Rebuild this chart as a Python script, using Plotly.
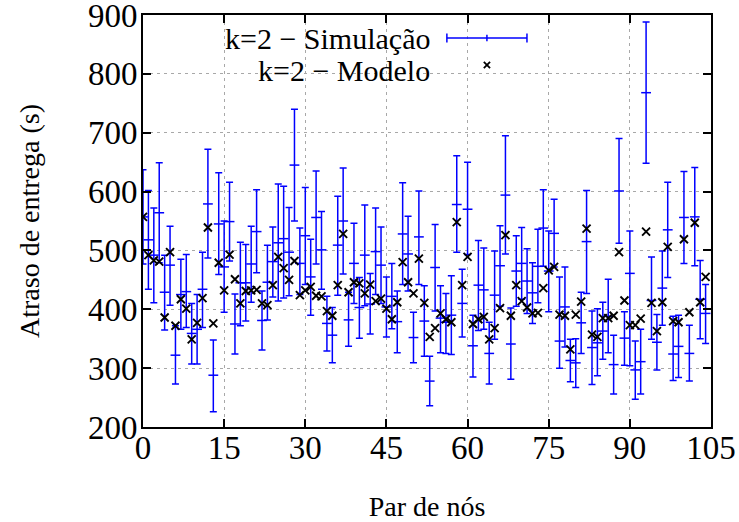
import plotly.graph_objects as go

pairs = list(range(105))

model = [557, 492, 483, 481, 386, 497, 372, 417, 401, 349, 377, 419, 539, 376, 479, 432, 493, 451, 410, 431,
         432, 433, 410, 407, 441, 489, 470, 450, 482, 424, 432, 438, 423, 422, 397, 389, 441, 528, 429, 446,
         444, 427, 442, 414, 418, 401, 383, 412, 480, 446, 427, 486, 411, 353, 368, 393, 383, 378, 548, 441,
         489, 375, 383, 387, 349, 368, 402, 526, 389, 441, 414, 403, 393, 394, 436, 466, 472, 391, 389, 332,
         391, 413, 537, 357, 353, 385, 385, 389, 497, 415, 373, 373, 384, 532, 411, 363, 412, 506, 380, 378,
         519, 395, 547, 412, 455]

sim_mean = [557, 518, 492, 564, 429, 475, 322, 425, 430, 359, 366, 434, 579, 288, 545, 472, 549, 375, 445, 445,
            477, 532, 381, 446, 481, 513, 520, 497, 645, 478, 525, 455, 556, 501, 376, 356, 509, 550, 382, 478,
            403, 492, 409, 498, 475, 404, 422, 379, 528, 494, 352, 523, 380, 278, 471, 385, 378, 390, 578, 410,
            570, 338, 441, 433, 325, 424, 474, 594, 341, 465, 478, 448, 428, 473, 538, 465, 529, 346, 404, 313,
            309, 377, 515, 335, 343, 363, 388, 306, 601, 351, 461, 297, 311, 768, 415, 344, 436, 535, 324, 337,
            556, 325, 557, 417, 393]

sim_high = [637, 602, 572, 649, 492, 541, 372, 485, 493, 410, 425, 497, 672, 348, 632, 550, 616, 426, 514, 510,
            541, 603, 431, 509, 540, 613, 609, 573, 740, 538, 607, 519, 635, 566, 422, 403, 592, 640, 429, 546,
            454, 577, 461, 572, 540, 455, 478, 431, 615, 558, 395, 601, 440, 320, 544, 440, 427, 457, 661, 468,
            650, 390, 517, 504, 378, 499, 542, 695, 402, 525, 539, 503, 479, 536, 603, 533, 587, 455, 472, 349,
            350, 429, 602, 397, 401, 412, 451, 356, 690, 396, 533, 346, 366, 888, 489, 391, 499, 616, 388, 390,
            634, 373, 641, 483, 442]

sim_low = [477, 434, 411, 479, 365, 407, 273, 366, 369, 307, 307, 369, 487, 226, 459, 395, 482, 324, 372, 380,
           412, 462, 331, 382, 421, 414, 419, 423, 550, 425, 442, 390, 477, 434, 329, 309, 424, 460, 337, 410,
           351, 406, 358, 425, 410, 353, 367, 326, 442, 431, 309, 442, 320, 236, 397, 326, 325, 323, 497, 353,
           493, 285, 364, 366, 273, 349, 405, 494, 281, 405, 417, 393, 376, 411, 473, 396, 472, 300, 336, 277,
           267, 325, 427, 272, 287, 315, 326, 256, 512, 305, 304, 247, 256, 648, 349, 297, 373, 454, 279, 284,
           478, 278, 474, 350, 342]

x_ticks = [0, 15, 30, 45, 60, 75, 90, 105]
y_ticks = [200, 300, 400, 500, 600, 700, 800, 900]

label_sim = "k=2 − Simulação"
label_model = "k=2 − Modelo"

BLUE = "#0000ff"
FONT = "Liberation Serif"
FS_TICK = 33
FS_TITLE = 28
FS_KEY = 30

err_plus = [h - m for h, m in zip(sim_high, sim_mean)]
err_minus = [m - l for m, l in zip(sim_mean, sim_low)]

fig = go.Figure()
fig.add_trace(go.Scatter(
    x=pairs, y=sim_mean, mode="markers", name=label_sim,
    marker=dict(symbol="line-ew", size=7, color=BLUE, line=dict(color=BLUE, width=1.5)),
    error_y=dict(type="data", symmetric=False, array=err_plus, arrayminus=err_minus,
                 color=BLUE, thickness=1.5, width=3.5),
    showlegend=False,
))
fig.add_trace(go.Scatter(
    x=pairs, y=model, mode="markers", name=label_model,
    marker=dict(symbol="x-thin", size=8, color="black", line=dict(color="black", width=1.9)),
    showlegend=False,
))

axis_common = dict(
    showline=True, linecolor="black", linewidth=2, mirror="ticks",
    ticks="inside", ticklen=8, tickwidth=1.5, tickcolor="black",
    showgrid=True, gridcolor="#a8a8a8", griddash="3px,4px", gridwidth=1,
    zeroline=False, ticklabeloverflow="allow", automargin=False,
    tickfont=dict(family=FONT, size=FS_TICK, color="black"),
)

fig.update_xaxes(range=[0, 105], tickvals=x_ticks, ticktext=[str(v) for v in x_ticks],
                 title=dict(text="Par de nós", font=dict(family=FONT, size=FS_TITLE, color="black"), standoff=40),
                 ticklabelstandoff=-10, **axis_common)
fig.update_yaxes(range=[200, 900], tickvals=y_ticks, ticktext=[str(v) for v in y_ticks],
                 title=dict(text="Atraso de entrega (s)", font=dict(family=FONT, size=FS_TITLE, color="black"), standoff=40),
                 ticklabelstandoff=-3, **axis_common)

# Manual gnuplot-style key (text right-aligned, sample on the right)
ty1, ty2 = 0.944, 0.8665
xtxt = 0.509
fig.add_annotation(xref="paper", yref="paper", x=xtxt, y=ty1, text=label_sim, showarrow=False,
                   xanchor="right", yanchor="middle", font=dict(family=FONT, size=FS_KEY, color="black"))
fig.add_annotation(xref="paper", yref="paper", x=xtxt, y=ty2, text=label_model, showarrow=False,
                   xanchor="right", yanchor="middle", font=dict(family=FONT, size=FS_KEY, color="black"))
sx0, sx1, sxm = 0.535, 0.676, 0.6055
cap = 0.011
fig.add_shape(type="line", xref="paper", yref="paper", x0=sx0, x1=sx1, y0=ty1, y1=ty1,
              line=dict(color=BLUE, width=1.5))
for sx in (sx0, sx1):
    fig.add_shape(type="line", xref="paper", yref="paper", x0=sx, x1=sx, y0=ty1 - cap, y1=ty1 + cap,
                  line=dict(color=BLUE, width=1.5))
fig.add_shape(type="line", xref="paper", yref="paper", x0=sxm, x1=sxm, y0=ty1 - 0.008, y1=ty1 + 0.008,
              line=dict(color=BLUE, width=1.5))
dx, dy = 0.0055, 0.0075
ym = ty2 + 0.012
fig.add_shape(type="line", xref="paper", yref="paper", x0=sxm - dx, x1=sxm + dx, y0=ym - dy, y1=ym + dy,
              line=dict(color="black", width=1.8))
fig.add_shape(type="line", xref="paper", yref="paper", x0=sxm - dx, x1=sxm + dx, y0=ym + dy, y1=ym - dy,
              line=dict(color="black", width=1.8))

fig.update_layout(
    width=739, height=522,
    margin=dict(l=143, r=28, t=15, b=95),
    paper_bgcolor="white", plot_bgcolor="white",
    font=dict(family=FONT, size=FS_TITLE, color="black"),
)

fig.write_html("out.html")
